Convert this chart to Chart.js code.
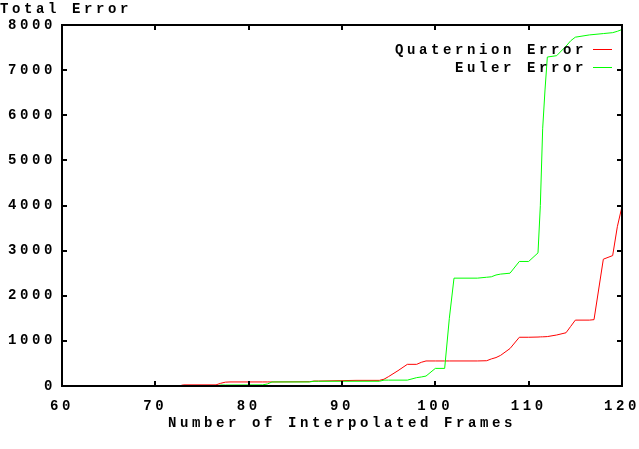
<!DOCTYPE html>
<html>
<head>
<meta charset="utf-8">
<script src="https://cdn.jsdelivr.net/npm/chart.js@4.4.0/dist/chart.umd.min.js"></script>
<style>
  html, body { margin: 0; padding: 0; background: #fff; }
</style>
</head>
<body>
<canvas id="errorChart" width="639" height="449"></canvas>
<script>
// frame numbers (x) shared by both series
var frames = [60, 72.5, 73, 76.5, 77, 77.5, 78, 81.5, 82, 82.5, 86.5, 87, 87.5, 91.5, 94, 94.5, 95, 96, 97, 98,
              98.5, 99, 100, 101, 101.5, 102, 104.5, 105.5, 106, 106.5, 107, 108, 109, 110, 111, 111.25, 111.5, 111.75, 112, 113,
              114, 114.5, 115, 116.5, 117, 118, 119, 119.5, 120];
var quaternionError = [0, 0, 25, 25, 60, 85, 90, 90, 90, 90, 95, 110, 110, 125, 125, 150, 210, 340, 480, 480,
                       525, 555, 555, 555, 555, 555, 555, 560, 600, 630, 680, 830, 1080, 1080, 1085, 1088, 1090, 1092, 1095, 1130,
                       1180, 1320, 1460, 1460, 1470, 2810, 2890, 3530, 3980];
var eulerError = [0, 0, 0, 0, 22, 22, 22, 25, 45, 90, 90, 105, 105, 105, 105, 130, 130, 130, 130, 185,
                  200, 220, 390, 390, 1500, 2390, 2390, 2410, 2420, 2460, 2480, 2500, 2760, 2760, 2950, 4000, 5700, 6560, 7290, 7320,
                  7530, 7650, 7730, 7780, 7790, 7810, 7830, 7860, 7900];
var xTicks = [60, 70, 80, 90, 100, 110, 120];
var yTicks = [0, 1000, 2000, 3000, 4000, 5000, 6000, 7000, 8000];

var FONT = '"Liberation Mono", "DejaVu Sans Mono", monospace';
var SPACING = '3.6px';

function toPoints(values) {
    return frames.map(function(f, i) { return { x: f, y: values[i] }; });
}

// gnuplot-like wide letter spacing
var spacingPlugin = {
    id: 'spacing',
    beforeUpdate: function(chart) { chart.ctx.letterSpacing = SPACING; },
    beforeDraw: function(chart) { chart.ctx.letterSpacing = SPACING; }
};

// border box, inward ticks on all four sides, key inside the plot
var framePlugin = {
    id: 'gnuplotFrame',
    afterDatasetsDraw: function(chart) {
        var ctx = chart.ctx;
        var a = chart.chartArea;
        var xs = chart.scales.x, ys = chart.scales.y;
        ctx.save();
        ctx.strokeStyle = '#000';
        ctx.lineWidth = 2;
        ctx.strokeRect(a.left, a.top, a.right - a.left, a.bottom - a.top);
        ctx.beginPath();
        xTicks.forEach(function(t) {
            var px = Math.round(xs.getPixelForValue(t));
            ctx.moveTo(px, a.bottom); ctx.lineTo(px, a.bottom - 5);
            ctx.moveTo(px, a.top); ctx.lineTo(px, a.top + 5);
        });
        yTicks.forEach(function(t) {
            var py = Math.round(ys.getPixelForValue(t));
            ctx.moveTo(a.left, py); ctx.lineTo(a.left + 5, py);
            ctx.moveTo(a.right, py); ctx.lineTo(a.right - 5, py);
        });
        ctx.stroke();

        // key
        ctx.letterSpacing = SPACING;
        ctx.font = 'bold 14px ' + FONT;
        ctx.textAlign = 'right';
        ctx.textBaseline = 'middle';
        chart.data.datasets.forEach(function(ds, i) {
            var y = a.top + 24 + i * 18;
            ctx.fillStyle = '#000';
            ctx.fillText(ds.label, a.right - 35, y + 1);
            ctx.strokeStyle = ds.borderColor;
            ctx.lineWidth = 1;
            ctx.beginPath();
            ctx.moveTo(a.right - 29, y + 0.5);
            ctx.lineTo(a.right - 10, y + 0.5);
            ctx.stroke();
        });
        ctx.restore();
    }
};

var ctx = document.getElementById('errorChart').getContext('2d');
var chart = new Chart(ctx, {
    type: 'line',
    data: {
        datasets: [{
            label: 'Quaternion Error',
            data: toPoints(quaternionError),
            borderColor: '#ff0000',
            borderWidth: 1,
            pointRadius: 0,
            tension: 0,
            order: 1
        }, {
            label: 'Euler Error',
            data: toPoints(eulerError),
            borderColor: '#00ff00',
            borderWidth: 1,
            pointRadius: 0,
            tension: 0,
            order: 0
        }]
    },
    options: {
        responsive: false,
        animation: false,
        layout: { padding: { left: 0, right: 17, top: 0, bottom: 0 } },
        plugins: {
            legend: { display: false },
            tooltip: { enabled: false },
            title: {
                display: true,
                text: 'Total Error',
                align: 'start',
                color: '#000',
                font: { family: FONT, size: 14, weight: 'bold' },
                padding: { top: 1.5, bottom: 6.7 }
            }
        },
        scales: {
            x: {
                type: 'linear',
                min: 60,
                max: 120,
                grid: { display: false, drawTicks: false },
                border: { display: false },
                ticks: {
                    stepSize: 10,
                    padding: 12,
                    color: '#000',
                    font: { family: FONT, size: 14, weight: 'bold' },
                    callback: function(v) { return String(v); }
                },
                title: {
                    display: true,
                    text: 'Number of Interpolated Frames',
                    color: '#000',
                    font: { family: FONT, size: 14, weight: 'bold' },
                    padding: { top: 0, bottom: 17.5 }
                },
                afterFit: function(scale) {
                    scale.height = 63;
                    scale.paddingLeft = 0;
                    scale.paddingRight = 0;
                }
            },
            y: {
                min: 0,
                max: 8000,
                grid: { display: false, drawTicks: false },
                border: { display: false },
                ticks: {
                    stepSize: 1000,
                    padding: 6,
                    color: '#000',
                    font: { family: FONT, size: 14, weight: 'bold' },
                    callback: function(v) { return String(v); }
                },
                afterFit: function(scale) {
                    scale.width = 62;
                    scale.paddingTop = 0;
                    scale.paddingBottom = 0;
                }
            }
        }
    },
    plugins: [spacingPlugin, framePlugin]
});
</script>
</body>
</html>
